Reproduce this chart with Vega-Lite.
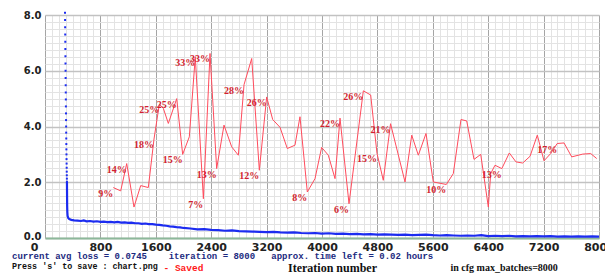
{
  "$schema": "https://vega.github.io/schema/vega-lite/v6.json",
  "width": 554,
  "height": 223,
  "autosize": {"type": "none"},
  "padding": {"left": 45, "top": 15, "right": 6, "bottom": 35},
  "background": "white",
  "config": {"view": {"stroke": null}},
  "title": {
    "text": "\u00a0current avg loss = 0.0745\u00a0\u00a0\u00a0\u00a0iteration = 8000\u00a0\u00a0\u00a0approx. time left = 0.02 hours",
    "subtitle": "Press 's' to save : chart.png",
    "orient": "bottom",
    "anchor": "start",
    "frame": "group",
    "offset": -21,
    "dx": -33,
    "font": "Liberation Mono",
    "fontSize": 9,
    "fontWeight": "bold",
    "color": "#1b2a80",
    "subtitleFont": "Liberation Mono",
    "subtitleFontSize": 8.4,
    "subtitleFontWeight": "bold",
    "subtitleColor": "#111111",
    "subtitlePadding": 1
  },
  "datasets": {
    "lossdots": [
      {"iter": 289, "loss": 8.08}, {"iter": 290, "loss": 7.82}, {"iter": 291, "loss": 7.56},
      {"iter": 292, "loss": 7.3}, {"iter": 293, "loss": 7.04}, {"iter": 294, "loss": 6.78},
      {"iter": 295, "loss": 6.52}, {"iter": 296, "loss": 6.26}, {"iter": 297, "loss": 6.0},
      {"iter": 298, "loss": 5.74}, {"iter": 299, "loss": 5.48}, {"iter": 300, "loss": 5.22},
      {"iter": 301, "loss": 4.97}, {"iter": 302, "loss": 4.72}, {"iter": 303, "loss": 4.47},
      {"iter": 304, "loss": 4.23}, {"iter": 305, "loss": 4.0}, {"iter": 306, "loss": 3.78},
      {"iter": 307, "loss": 3.57}, {"iter": 308, "loss": 3.37}, {"iter": 309, "loss": 3.18},
      {"iter": 310, "loss": 3.0}, {"iter": 311, "loss": 2.83}, {"iter": 312, "loss": 2.67},
      {"iter": 313, "loss": 2.52}, {"iter": 314, "loss": 2.38}, {"iter": 315, "loss": 2.25},
      {"iter": 316, "loss": 2.13}, {"iter": 317, "loss": 2.02}
    ],
    "loss": [
      {"iter": 317, "loss": 2.02}, {"iter": 318, "loss": 1.7}, {"iter": 319, "loss": 1.4},
      {"iter": 320, "loss": 1.15}, {"iter": 322, "loss": 0.95}, {"iter": 326, "loss": 0.8},
      {"iter": 335, "loss": 0.72}, {"iter": 350, "loss": 0.68}, {"iter": 380, "loss": 0.65},
      {"iter": 420, "loss": 0.63}, {"iter": 470, "loss": 0.62}, {"iter": 520, "loss": 0.61},
      {"iter": 560, "loss": 0.63}, {"iter": 600, "loss": 0.6}, {"iter": 650, "loss": 0.61},
      {"iter": 700, "loss": 0.59}, {"iter": 750, "loss": 0.6}, {"iter": 800, "loss": 0.58},
      {"iter": 850, "loss": 0.59}, {"iter": 900, "loss": 0.57}, {"iter": 950, "loss": 0.58},
      {"iter": 1000, "loss": 0.56}, {"iter": 1050, "loss": 0.58}, {"iter": 1100, "loss": 0.55},
      {"iter": 1150, "loss": 0.56}, {"iter": 1200, "loss": 0.54}, {"iter": 1250, "loss": 0.55},
      {"iter": 1300, "loss": 0.53}, {"iter": 1350, "loss": 0.53}, {"iter": 1400, "loss": 0.51},
      {"iter": 1450, "loss": 0.52}, {"iter": 1500, "loss": 0.5}, {"iter": 1550, "loss": 0.5},
      {"iter": 1600, "loss": 0.48}, {"iter": 1650, "loss": 0.47}, {"iter": 1700, "loss": 0.45},
      {"iter": 1750, "loss": 0.44}, {"iter": 1800, "loss": 0.42}, {"iter": 1850, "loss": 0.41},
      {"iter": 1900, "loss": 0.39}, {"iter": 1950, "loss": 0.38}, {"iter": 2000, "loss": 0.36},
      {"iter": 2100, "loss": 0.34}, {"iter": 2200, "loss": 0.31}, {"iter": 2300, "loss": 0.32},
      {"iter": 2400, "loss": 0.29}, {"iter": 2500, "loss": 0.28}, {"iter": 2600, "loss": 0.26},
      {"iter": 2700, "loss": 0.27}, {"iter": 2800, "loss": 0.25}, {"iter": 2900, "loss": 0.24},
      {"iter": 3000, "loss": 0.23}, {"iter": 3100, "loss": 0.22}, {"iter": 3200, "loss": 0.21},
      {"iter": 3300, "loss": 0.22}, {"iter": 3400, "loss": 0.2}, {"iter": 3500, "loss": 0.19},
      {"iter": 3600, "loss": 0.2}, {"iter": 3700, "loss": 0.18}, {"iter": 3800, "loss": 0.17},
      {"iter": 3900, "loss": 0.18}, {"iter": 4000, "loss": 0.16}, {"iter": 4100, "loss": 0.17},
      {"iter": 4200, "loss": 0.15}, {"iter": 4300, "loss": 0.16}, {"iter": 4400, "loss": 0.14},
      {"iter": 4500, "loss": 0.15}, {"iter": 4600, "loss": 0.13}, {"iter": 4700, "loss": 0.14},
      {"iter": 4800, "loss": 0.12}, {"iter": 4900, "loss": 0.13}, {"iter": 5000, "loss": 0.12},
      {"iter": 5100, "loss": 0.11}, {"iter": 5200, "loss": 0.12}, {"iter": 5300, "loss": 0.1},
      {"iter": 5400, "loss": 0.11}, {"iter": 5500, "loss": 0.12}, {"iter": 5600, "loss": 0.1},
      {"iter": 5700, "loss": 0.09}, {"iter": 5800, "loss": 0.1}, {"iter": 5900, "loss": 0.09},
      {"iter": 6000, "loss": 0.08}, {"iter": 6100, "loss": 0.09}, {"iter": 6200, "loss": 0.08},
      {"iter": 6300, "loss": 0.1}, {"iter": 6400, "loss": 0.07}, {"iter": 6500, "loss": 0.08},
      {"iter": 6600, "loss": 0.07}, {"iter": 6700, "loss": 0.08}, {"iter": 6800, "loss": 0.06},
      {"iter": 6900, "loss": 0.07}, {"iter": 7000, "loss": 0.06}, {"iter": 7100, "loss": 0.07},
      {"iter": 7200, "loss": 0.06}, {"iter": 7300, "loss": 0.07}, {"iter": 7400, "loss": 0.05},
      {"iter": 7500, "loss": 0.06}, {"iter": 7600, "loss": 0.05}, {"iter": 7700, "loss": 0.06},
      {"iter": 7800, "loss": 0.05}, {"iter": 7900, "loss": 0.06}, {"iter": 8000, "loss": 0.05}
    ],
    "map": [
      {"iter": 986, "val": 1.81, "lab": "9%"}, {"iter": 1093, "val": 1.69, "lab": ""},
      {"iter": 1180, "val": 2.67, "lab": "14%"}, {"iter": 1285, "val": 1.11, "lab": ""},
      {"iter": 1382, "val": 1.88, "lab": ""}, {"iter": 1492, "val": 1.81, "lab": ""},
      {"iter": 1574, "val": 3.55, "lab": "18%"}, {"iter": 1651, "val": 4.8, "lab": "25%"},
      {"iter": 1709, "val": 4.65, "lab": ""}, {"iter": 1781, "val": 4.11, "lab": ""},
      {"iter": 1902, "val": 5.0, "lab": "25%"}, {"iter": 1988, "val": 3.0, "lab": "15%"},
      {"iter": 2084, "val": 3.63, "lab": ""}, {"iter": 2170, "val": 6.5, "lab": "33%"},
      {"iter": 2287, "val": 1.41, "lab": "7%"}, {"iter": 2383, "val": 6.62, "lab": "33%"},
      {"iter": 2479, "val": 2.49, "lab": "13%"}, {"iter": 2585, "val": 4.05, "lab": ""},
      {"iter": 2696, "val": 3.27, "lab": ""}, {"iter": 2792, "val": 2.97, "lab": ""},
      {"iter": 2874, "val": 5.5, "lab": "28%"}, {"iter": 2985, "val": 6.44, "lab": ""},
      {"iter": 3095, "val": 2.43, "lab": "12%"}, {"iter": 3201, "val": 5.06, "lab": "26%"},
      {"iter": 3288, "val": 4.25, "lab": ""}, {"iter": 3394, "val": 3.97, "lab": ""},
      {"iter": 3499, "val": 3.21, "lab": ""}, {"iter": 3610, "val": 3.33, "lab": ""},
      {"iter": 3682, "val": 4.35, "lab": ""}, {"iter": 3788, "val": 1.65, "lab": "8%"},
      {"iter": 3899, "val": 2.13, "lab": ""}, {"iter": 3995, "val": 3.25, "lab": ""},
      {"iter": 4091, "val": 2.97, "lab": ""}, {"iter": 4188, "val": 2.13, "lab": ""},
      {"iter": 4260, "val": 4.3, "lab": "22%"}, {"iter": 4390, "val": 1.23, "lab": "6%"},
      {"iter": 4597, "val": 5.28, "lab": "26%"}, {"iter": 4703, "val": 5.13, "lab": ""},
      {"iter": 4794, "val": 3.04, "lab": "15%"}, {"iter": 4885, "val": 2.07, "lab": ""},
      {"iter": 4990, "val": 4.1, "lab": "21%"}, {"iter": 5199, "val": 2.01, "lab": ""},
      {"iter": 5296, "val": 3.69, "lab": ""}, {"iter": 5391, "val": 2.97, "lab": ""},
      {"iter": 5502, "val": 3.75, "lab": ""}, {"iter": 5607, "val": 2.01, "lab": ""},
      {"iter": 5795, "val": 1.92, "lab": "10%"}, {"iter": 5896, "val": 2.31, "lab": ""},
      {"iter": 6007, "val": 4.25, "lab": ""}, {"iter": 6090, "val": 4.2, "lab": ""},
      {"iter": 6195, "val": 2.82, "lab": ""}, {"iter": 6292, "val": 3.0, "lab": ""},
      {"iter": 6402, "val": 1.11, "lab": ""}, {"iter": 6436, "val": 2.31, "lab": ""},
      {"iter": 6498, "val": 2.61, "lab": ""}, {"iter": 6597, "val": 2.49, "lab": "13%"},
      {"iter": 6705, "val": 3.05, "lab": ""}, {"iter": 6801, "val": 2.73, "lab": ""},
      {"iter": 6898, "val": 2.69, "lab": ""}, {"iter": 7004, "val": 2.93, "lab": ""},
      {"iter": 7109, "val": 3.69, "lab": ""}, {"iter": 7206, "val": 2.77, "lab": ""},
      {"iter": 7302, "val": 3.03, "lab": ""}, {"iter": 7396, "val": 3.39, "lab": "17%"},
      {"iter": 7495, "val": 3.41, "lab": ""}, {"iter": 7606, "val": 2.91, "lab": ""},
      {"iter": 7765, "val": 3.01, "lab": ""}, {"iter": 7880, "val": 3.03, "lab": ""},
      {"iter": 7967, "val": 2.85, "lab": ""}
    ]
  },
  "resolve": {"scale": {"x": "shared", "y": "shared"}, "axis": {"x": "independent", "y": "independent"}},
  "layer": [
    {
      "data": {"name": "loss"},
      "mark": {"type": "line", "color": "#1c2cf0", "strokeWidth": 2.2},
      "encoding": {
        "x": {
          "field": "iter", "type": "quantitative",
          "scale": {"domain": [0, 8000], "nice": false, "zero": false},
          "axis": {
            "orient": "bottom",
            "values": [0,100,200,300,400,500,600,700,900,1000,1100,1200,1300,1400,1500,1700,1800,1900,2000,2100,2200,2300,2500,2600,2700,2800,2900,3000,3100,3300,3400,3500,3600,3700,3800,3900,4100,4200,4300,4400,4500,4600,4700,4900,5000,5100,5200,5300,5400,5500,5700,5800,5900,6000,6100,6200,6300,6500,6600,6700,6800,6900,7000,7100,7300,7400,7500,7600,7700,7800,7900,8000],
            "labels": false,
            "ticks": false,
            "domain": false,
            "grid": true,
            "gridColor": "#e3e3e3",
            "gridWidth": 1,
            "gridOpacity": 1,
            "title": null
          }
        },
        "y": {
          "field": "loss", "type": "quantitative",
          "scale": {"domain": [0, 8], "nice": false},
          "axis": {
            "orient": "left",
            "values": [0.25,0.5,0.75,1,1.25,1.5,1.75,2.25,2.5,2.75,3,3.25,3.5,3.75,4.25,4.5,4.75,5,5.25,5.5,5.75,6.25,6.5,6.75,7,7.25,7.5,7.75],
            "labels": false,
            "ticks": false,
            "domain": false,
            "grid": true,
            "gridColor": "#e3e3e3",
            "gridWidth": 1,
            "gridOpacity": 1,
            "title": "in cfg max_batches=8000",
            "titleFont": "Liberation Serif",
            "titleFontSize": 10,
            "titleFontWeight": "bold",
            "titleColor": "#111111",
            "titleAngle": 0,
            "titleAlign": "left",
            "titleBaseline": "middle",
            "titleX": 405,
            "titleY": 252
          }
        }
      }
    },
    {
      "data": {"name": "map"},
      "mark": {"type": "line", "color": "#ff4b5c", "strokeWidth": 1},
      "encoding": {
        "x": {
          "field": "iter", "type": "quantitative",
          "axis": {
            "orient": "bottom",
            "values": [0,800,1600,2400,3200,4000,4800,5600,6400,7200,8000],
            "format": "d",
            "labelOffset": {"condition": {"test": "datum.value === 0", "value": -11}, "value": 0},
            "labelOverlap": false,
            "labelFont": "DejaVu Sans",
            "labelFontWeight": "bold",
            "labelFontSize": 11,
            "labelColor": "#222222",
            "labelPadding": 3,
            "labelFlush": false,
            "labelBound": false,
            "ticks": false,
            "domainColor": "#8db89a",
            "domainWidth": 2,
            "grid": true,
            "gridColor": "#a5a5a5",
            "gridWidth": 1,
            "gridOpacity": 1,
            "title": "Iteration number",
            "titleFont": "Liberation Serif",
            "titleFontSize": 12,
            "titleFontWeight": "bold",
            "titleColor": "#111111",
            "titleX": 287,
            "titleY": 29,
            "titleAlign": "center",
            "titleBaseline": "middle"
          }
        },
        "y": {
          "field": "val", "type": "quantitative",
          "axis": {
            "orient": "left",
            "values": [0,2,4,6,8],
            "format": ".1f",
            "labelOffset": {"condition": {"test": "datum.value === 0", "value": -2}, "value": 0},
            "labelOverlap": false,
            "labelFont": "DejaVu Sans",
            "labelFontWeight": "bold",
            "labelFontSize": 10,
            "labelColor": "#222222",
            "labelPadding": 4,
            "labelFlush": false,
            "ticks": false,
            "domain": false,
            "grid": true,
            "gridColor": "#c2c2c2",
            "gridWidth": 1.5,
            "gridOpacity": 1,
            "title": "- Saved",
            "titleFont": "Liberation Mono",
            "titleFontSize": 9.5,
            "titleFontWeight": "bold",
            "titleColor": "#ff1a1a",
            "titleAngle": 0,
            "titleAlign": "left",
            "titleBaseline": "middle",
            "titleX": 118,
            "titleY": 252
          }
        }
      }
    },
    {
      "data": {"name": "map"},
      "transform": [{"filter": "datum.lab != ''"}],
      "mark": {"type": "text", "align": "right", "baseline": "middle", "dy": 6, "font": "Liberation Serif", "fontSize": 10, "fontWeight": "bold", "color": "#d21f30"},
      "encoding": {
        "x": {"field": "iter", "type": "quantitative", "axis": null},
        "y": {"field": "val", "type": "quantitative", "axis": null},
        "text": {"field": "lab"}
      }
    },
    {
      "data": {"name": "lossdots"},
      "mark": {"type": "square", "color": "#1c2cf0", "size": 4, "opacity": 1, "filled": true},
      "encoding": {
        "x": {"field": "iter", "type": "quantitative", "axis": null},
        "y": {"field": "loss", "type": "quantitative", "axis": null}
      }
    }
  ]
}
